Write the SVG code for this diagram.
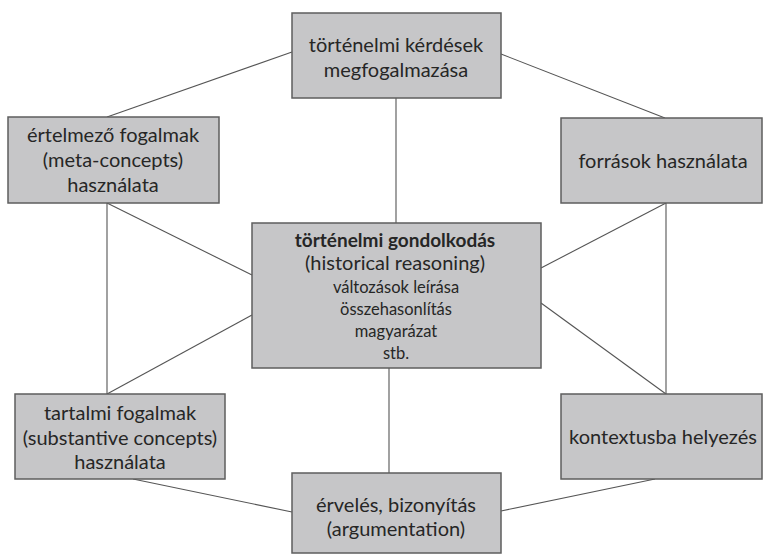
<svg xmlns="http://www.w3.org/2000/svg" width="765" height="555" viewBox="0 0 765 555">
<style>
.box{fill:#c6c6c8;stroke:#5e5e5e;stroke-width:1.5}
.t{font-family:Lato,"Open Sans","Liberation Sans",sans-serif;font-size:20px;fill:#262626;text-anchor:middle}
.s{font-size:16.5px}
.b{font-weight:bold;font-size:19px}
.c{stroke:#555;stroke-width:1.1;fill:none}
</style>
<rect width="765" height="555" fill="#fff"/>
<g id="connectors">
<line class="c" x1="107" y1="117" x2="292" y2="52"/>
<line class="c" x1="501" y1="54" x2="665" y2="118"/>
<line class="c" x1="396" y1="98" x2="396" y2="223"/>
<line class="c" x1="107" y1="203" x2="107" y2="394"/>
<line class="c" x1="107" y1="203" x2="252" y2="275"/>
<line class="c" x1="107" y1="394" x2="252" y2="315"/>
<line class="c" x1="666" y1="203" x2="666" y2="394"/>
<line class="c" x1="666" y1="203" x2="541" y2="268"/>
<line class="c" x1="541" y1="303" x2="666" y2="394"/>
<line class="c" x1="389" y1="368" x2="389" y2="473"/>
<line class="c" x1="133" y1="479" x2="292" y2="512"/>
<line class="c" x1="501" y1="511" x2="655" y2="479"/>
</g>
<g id="top">
<rect class="box" x="292" y="13" width="209" height="85"/>
<text class="t" x="396" y="52">történelmi kérdések</text>
<text class="t" x="396" y="77">megfogalmazása</text>
</g>
<g id="meta">
<rect class="box" x="8" y="117" width="211" height="86"/>
<text class="t" x="113" y="142">értelmező fogalmak</text>
<text class="t" x="113" y="167">(meta-concepts)</text>
<text class="t" x="113" y="192">használata</text>
</g>
<g id="sources">
<rect class="box" x="561" y="118" width="201" height="85"/>
<text class="t" x="663" y="168">források használata</text>
</g>
<g id="center">
<rect class="box" x="252" y="223" width="289" height="145"/>
<text class="t b" x="395" y="247">történelmi gondolkodás</text>
<text class="t" x="395" y="270">(historical reasoning)</text>
<text class="t s" x="396" y="293">változások leírása</text>
<text class="t s" x="396" y="315">összehasonlítás</text>
<text class="t s" x="396" y="337">magyarázat</text>
<text class="t s" x="396" y="359">stb.</text>
</g>
<g id="substantive">
<rect class="box" x="15" y="394" width="210" height="85"/>
<text class="t" x="120" y="420">tartalmi fogalmak</text>
<text class="t" x="120" y="445">(substantive concepts)</text>
<text class="t" x="120" y="469">használata</text>
</g>
<g id="context">
<rect class="box" x="561" y="394" width="201" height="85"/>
<text class="t" x="663" y="444">kontextusba helyezés</text>
</g>
<g id="argument">
<rect class="box" x="292" y="473" width="209" height="80"/>
<text class="t" x="396" y="512">érvelés, bizonyítás</text>
<text class="t" x="396" y="536">(argumentation)</text>
</g>
</svg>
